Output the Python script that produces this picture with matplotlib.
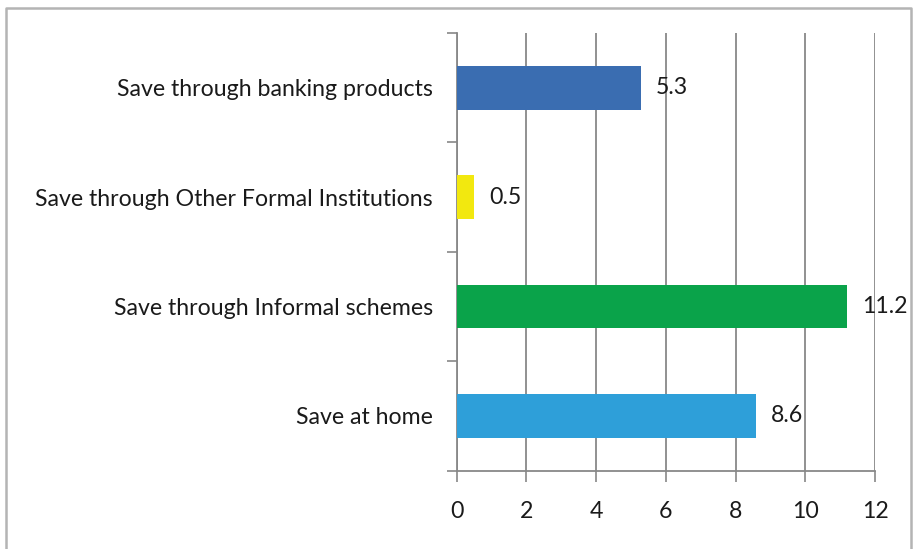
import matplotlib as mpl
mpl.use('Agg')
import matplotlib.pyplot as plt
from matplotlib.lines import Line2D

plt.rcParams['font.family'] = ['Lato', 'DejaVu Sans']

categories = ['Save at home', 'Save through Informal schemes',
              'Save through Other Formal Institutions', 'Save through banking products']
values = [8.6, 11.2, 0.5, 5.3]
colors = ['#2E9FD9', '#0AA34A', '#F2E80F', '#3A6DB1']
xticks = [0, 2, 4, 6, 8, 10, 12]

fs = 16.7
fig = plt.figure(figsize=(9.14, 5.49), dpi=100)
ax = fig.add_axes([456.7/914, 1-470.7/549, (875-456.7)/914, (470.7-33)/549])

pos = range(len(categories))
ax.barh(pos, values, height=0.4, color=colors, zorder=3)
for p, v in zip(pos, values):
    ax.text(v + 0.42, p, str(v), va='center', ha='left', fontsize=fs, color='#1a1a1a', zorder=4)

ax.set_xlim(0, 12)
ax.set_ylim(-0.5, 3.5)
ax.set_xticks(xticks)
ax.set_xticklabels([str(t) for t in xticks], fontsize=fs, color='#1a1a1a')
ax.set_yticks(list(pos))
ax.set_yticklabels(categories, fontsize=fs, color='#1a1a1a')
ax.tick_params(axis='y', length=0, pad=17)
ax.set_yticks([-0.5, 0.5, 1.5, 2.5, 3.5], minor=True)
ax.tick_params(axis='y', which='minor', length=7, color='#888888', width=1.2)
ax.tick_params(axis='x', length=8, color='#888888', width=1.2, pad=14)

ax.grid(axis='x', color='#888888', linewidth=1.3, zorder=0)
for s in ['top', 'right']:
    ax.spines[s].set_visible(False)
for s in ['left', 'bottom']:
    ax.spines[s].set_color('#888888')
    ax.spines[s].set_linewidth(1.3)

# outer chart frame (open at the bottom)
W, H = 914, 549
frame = [(6/W, 0), (6/W, 1-8/H), (911/W, 1-8/H), (911/W, 0)]
fig.add_artist(Line2D([p[0] for p in frame], [p[1] for p in frame],
                      transform=fig.transFigure, color='#B4B4B4', linewidth=1.8))

fig.savefig('out.png', dpi=100, facecolor='white')
